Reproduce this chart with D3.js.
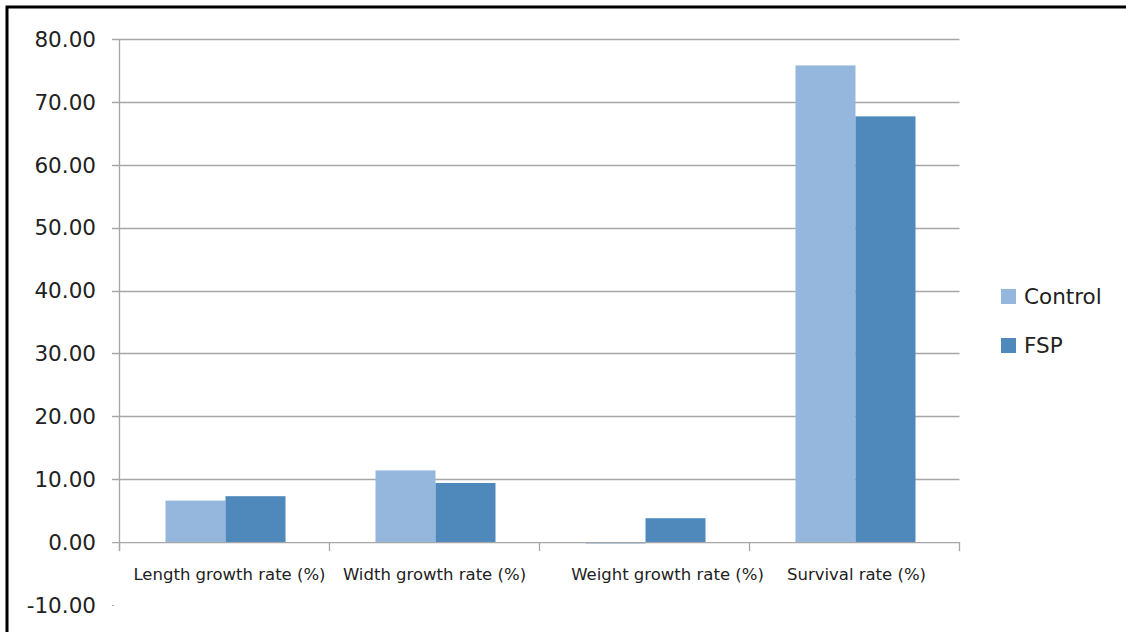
<!DOCTYPE html>
<html><head><meta charset="utf-8">
<script src="https://cdn.jsdelivr.net/npm/d3@7"></script>
<style>body{margin:0;background:#fff}svg{display:block}</style>
</head><body><svg id="c" width="1126" height="632"></svg>
<script>
const categories = ["Length growth rate (%)", "Width growth rate (%)", "Weight growth rate (%)", "Survival rate (%)"];
const seriesNames = ["Control", "FSP"];
const controlValues = [6.6, 11.4, -0.2, 75.8];
const fspValues = [7.3, 9.4, 3.8, 67.7];
const yTicks = [-10, 0, 10, 20, 30, 40, 50, 60, 70, 80];
const colors = ["#95B7DD", "#4F88BB"];

const svg = d3.select("#c");
const font = "DejaVu Sans, Verdana, sans-serif";

// frame
svg.append("rect").attr("x", 7).attr("y", 7).attr("width", 1126).attr("height", 700)
  .attr("fill", "none").attr("stroke", "#000").attr("stroke-width", 3);

const x0 = d3.scaleBand().domain(categories).range([119.5, 959.5]);
const y = d3.scaleLinear().domain([-10, 80]).range([605, 39]);
const x1 = d3.scaleBand().domain(seriesNames).range([46, 166]);
const fmt = d => d3.format(".2f")(d).replace("\u2212", "-");

// gridlines
svg.append("g").selectAll("line").data(yTicks.filter(d => d > 0)).join("line")
  .attr("x1", 112).attr("x2", 959.5)
  .attr("y1", d => Math.round(y(d)) + 0.5).attr("y2", d => Math.round(y(d)) + 0.5)
  .attr("stroke", "#A6A6A6").attr("stroke-width", 1.3);

// y tick labels
svg.append("g").selectAll("text").data(yTicks).join("text")
  .attr("x", 96).attr("y", d => y(d)).attr("dy", "0.36em")
  .attr("text-anchor", "end").attr("font-family", font).attr("font-size", 21.5)
  .attr("fill", "#222").text(fmt);

// small tick at -10
svg.append("line").attr("x1", 112).attr("x2", 114).attr("y1", y(-10) + 0.5).attr("y2", y(-10) + 0.5)
  .attr("stroke", "#A6A6A6");

// bars
const groups = svg.append("g").selectAll("g").data(categories).join("g")
  .attr("transform", d => `translate(${x0(d)},0)`);
groups.selectAll("rect").data((d, i) => [
  {s: seriesNames[0], v: controlValues[i], c: colors[0]},
  {s: seriesNames[1], v: fspValues[i], c: colors[1]}
]).join("rect")
  .attr("x", d => x1(d.s)).attr("width", x1.bandwidth())
  .attr("y", d => Math.min(y(d.v), y(0))).attr("height", d => Math.max(1.5, Math.abs(y(d.v) - y(0))))
  .attr("fill", d => d.c);

// zero line (x axis)
svg.append("line").attr("x1", 112).attr("x2", 959.5).attr("y1", y(0) + 0.5).attr("y2", y(0) + 0.5)
  .attr("stroke", "#A6A6A6").attr("stroke-width", 1.3);
// y axis line
svg.append("line").attr("x1", 119.5).attr("x2", 119.5).attr("y1", y(80)).attr("y2", y(0) + 9)
  .attr("stroke", "#A6A6A6").attr("stroke-width", 1.3);
// category ticks
const tickPos = categories.map(c => x0(c)).concat([x0.range()[1]]);
svg.append("g").selectAll("line").data(tickPos).join("line")
  .attr("x1", d => d).attr("x2", d => d).attr("y1", y(0)).attr("y2", y(0) + 9)
  .attr("stroke", "#A6A6A6").attr("stroke-width", 1.3);

// category labels
const labelShift = [5, 0, 23, 2];
svg.append("g").selectAll("text").data(categories).join("text")
  .attr("x", (d, i) => x0(d) + x0.bandwidth() / 2 + labelShift[i]).attr("y", 580)
  .attr("text-anchor", "middle").attr("font-family", font).attr("font-size", 16.5)
  .attr("fill", "#222").text(d => d);

// legend
const leg = svg.append("g").selectAll("g").data(seriesNames).join("g")
  .attr("transform", (d, i) => `translate(1001,${289 + i * 49})`);
leg.append("rect").attr("width", 15).attr("height", 15).attr("fill", (d, i) => colors[i]);
leg.append("text").attr("x", 23).attr("y", 7.5).attr("dy", "0.36em")
  .attr("font-family", font).attr("font-size", 21.5).attr("fill", "#222").text(d => d);
</script></body></html>
